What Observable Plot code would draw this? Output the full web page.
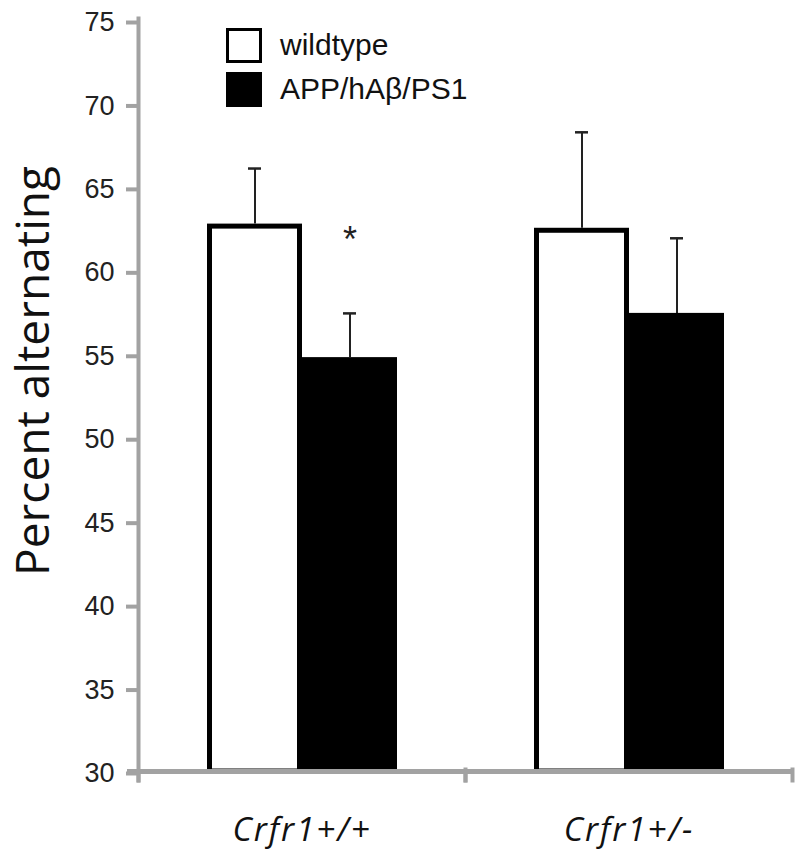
<!DOCTYPE html>
<html><head><meta charset="utf-8">
<script src="https://cdn.jsdelivr.net/npm/d3@7"></script>
<script src="https://cdn.jsdelivr.net/npm/@observablehq/plot@0.6"></script>
<style>
body{margin:0;background:#fff;}
#wrap{position:relative;width:800px;height:861px;}
#legend{position:absolute;left:226px;top:23px;font-family:"Liberation Sans",Arial,sans-serif;font-size:30px;color:#111;}
.item{display:flex;align-items:center;height:44px}
.sw{width:30px;height:29px;border:3px solid #000;margin-right:18px;box-sizing:content-box}
g[aria-label="fx-axis tick label"] text{letter-spacing:2px}
</style></head>
<body><div id="wrap"></div>
<script>
// ---- data ----
const groups = ["Crfr1+/+", "Crfr1+/-"];
const genotypes = ["wildtype", "APP/hAβ/PS1"];
const wildtypeMean = [62.8, 62.55];
const wildtypeSem = [3.33, 5.75];
const appMean = [54.8, 57.45];
const appSem = [2.65, 4.5];
const significance = ["*", ""]; // APP vs wildtype, per group
const yTicks = [30, 35, 40, 45, 50, 55, 60, 65, 70, 75];
const yLabel = "Percent alternating";

const rows = [];
groups.forEach((g, i) => {
  rows.push({group: g, genotype: genotypes[0], mean: wildtypeMean[i], sem: wildtypeSem[i], sig: ""});
  rows.push({group: g, genotype: genotypes[1], mean: appMean[i], sem: appSem[i], sig: significance[i]});
});
const yMin = yTicks[0], yMax = yTicks[yTicks.length - 1];

const W = 800, H = 861, mT = 20, mB = 90, mL = 137, mR = 8;
const plotH = H - mT - mB;
const axisGrey = "#a2a2a2";

const plot = Plot.plot({
  width: W, height: H,
  marginTop: mT, marginBottom: mB, marginLeft: mL, marginRight: mR,
  style: {fontFamily: "'Liberation Sans', Arial, sans-serif", background: "white", color: "#111"},
  fx: {domain: groups, padding: 0, label: null},
  x: {domain: genotypes, paddingInner: 0, paddingOuter: 0.72, axis: null},
  y: {domain: [yMin, yMax], label: null},
  marks: [
    Plot.ruleX(rows, {fx: "group", x: "genotype", y1: "mean", y2: d => d.mean + d.sem, stroke: "#222", strokeWidth: 2}),
    Plot.tickY(rows, {fx: "group", x: "genotype", y: d => d.mean + d.sem, stroke: "#222", strokeWidth: 2.5, insetLeft: 41, insetRight: 41}),
    Plot.barY(rows.filter(d => d.genotype === genotypes[0]), {fx: "group", x: "genotype", y1: yMin, y2: "mean", fill: "white", stroke: "black", strokeWidth: 5, insetLeft: 2.5, insetRight: 2.5, insetTop: 2.5}),
    Plot.barY(rows.filter(d => d.genotype === genotypes[1]), {fx: "group", x: "genotype", y1: yMin, y2: "mean", fill: "black"}),
    Plot.text(rows, {fx: "group", x: "genotype", y: d => d.mean + d.sem, text: "sig", dy: -73, fontSize: 36, fill: "#222"}),
    Plot.ruleY([yMin], {stroke: axisGrey, strokeWidth: 5, insetLeft: -11}),
    Plot.frame({anchor: "left", fx: () => groups[0], stroke: axisGrey, strokeWidth: 4, insetTop: -2, insetBottom: -9}),
    Plot.frame({anchor: "left", stroke: axisGrey, strokeWidth: 4, insetTop: plotH, insetBottom: -9}),
    Plot.frame({anchor: "right", stroke: axisGrey, strokeWidth: 4, insetTop: plotH - 2, insetBottom: -9}),
    Plot.axisY({ticks: yTicks, tickSize: 12, tickPadding: 12, stroke: axisGrey, strokeWidth: 4, fill: "#222", fontSize: 27, label: null, dy: 2}),
    Plot.text([yLabel], {fx: () => groups[0], frameAnchor: "left", text: d => d, textAnchor: "middle", rotate: -90, dx: -104, dy: -25, fontSize: 46, fontFamily: "'Open Sans', sans-serif", fill: "#111"}),
    Plot.axisFx({anchor: "bottom", tickSize: 0, tickPadding: 46, fontSize: 33, fontStyle: "italic", fontFamily: "'Open Sans', sans-serif", fill: "#111", label: null})
  ]
});
const wrap = document.getElementById("wrap");
wrap.appendChild(plot);

const legend = document.createElement("div");
legend.id = "legend";
legend.innerHTML = genotypes.map((g, i) =>
  `<div class="item"><span class="sw" style="background:${i === 0 ? "white" : "black"}"></span><span>${g}</span></div>`).join("");
wrap.appendChild(legend);
</script>
</body></html>
